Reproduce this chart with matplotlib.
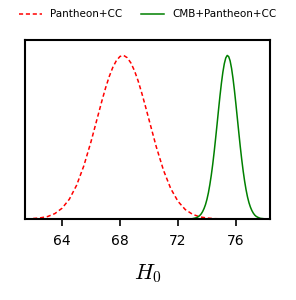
import numpy as np
import matplotlib.pyplot as plt

plt.rcParams['mathtext.fontset'] = 'cm'

# H0 posteriors (normalised to peak = 1)
h0_sn = [62.0, 62.5, 63.0, 63.5, 64.0, 64.5, 65.0, 65.5, 66.0, 66.5, 66.75, 67.0,
         67.25, 67.5, 67.75, 68.0, 68.25, 68.5, 68.75, 69.0, 69.25, 69.5, 69.75,
         70.0, 70.5, 71.0, 71.5, 72.0, 72.5, 73.0, 73.5, 74.0, 74.5, 75.0]
p_sn = [0.003, 0.007, 0.015, 0.033, 0.066, 0.121, 0.206, 0.325, 0.474, 0.640, 0.723,
        0.801, 0.870, 0.927, 0.969, 0.994, 1.000, 0.986, 0.954, 0.906, 0.844, 0.770,
        0.690, 0.607, 0.442, 0.298, 0.186, 0.108, 0.058, 0.029, 0.013, 0.006, 0.002,
        0.001]

h0_cmb = [73.0, 73.1, 73.2, 73.3, 73.4, 73.5, 73.6, 73.7, 73.8, 73.9,
          74.0, 74.1, 74.2, 74.3, 74.4, 74.5, 74.6, 74.7, 74.8, 74.9,
          75.0, 75.1, 75.2, 75.3, 75.4, 75.5, 75.6, 75.7, 75.8, 75.9,
          76.0, 76.1, 76.2, 76.3, 76.4, 76.5, 76.6, 76.7, 76.8, 76.9,
          77.0, 77.1, 77.2, 77.3, 77.4, 77.5, 77.6, 77.7, 77.8, 77.9, 78.0]
p_cmb = [0.002, 0.004, 0.006, 0.009, 0.014, 0.021, 0.031, 0.045, 0.064, 0.088,
         0.120, 0.160, 0.210, 0.268, 0.335, 0.411, 0.494, 0.580, 0.668, 0.753,
         0.831, 0.898, 0.950, 0.985, 1.000, 0.993, 0.967, 0.921, 0.859, 0.785,
         0.702, 0.615, 0.528, 0.443, 0.365, 0.294, 0.232, 0.179, 0.135, 0.100,
         0.073, 0.052, 0.036, 0.024, 0.016, 0.011, 0.007, 0.004, 0.003, 0.002, 0.001]

xticks = [64, 68, 72, 76]

fig = plt.figure(figsize=(2.96, 3.0), dpi=100)
ax = fig.add_axes([0.085, 0.27, 0.827, 0.597])

ax.plot(h0_sn, p_sn, color='red', ls='--', dashes=(2.7, 1.8), lw=1.1,
        label='Pantheon+CC')
ax.plot(h0_cmb, p_cmb, color='green', ls='-', lw=1.1, label='CMB+Pantheon+CC')

ax.set_xlim(61.45, 78.35)
ax.set_ylim(0, 1.095)
ax.set_xticks(xticks)
ax.set_yticks([])
ax.tick_params(axis='x', labelsize=10, length=5, width=1.2, pad=6)
for s in ax.spines.values():
    s.set_linewidth(1.5)
ax.set_xlabel(r'$H_0$', fontsize=16, labelpad=10)

fig.legend(loc='upper center', bbox_to_anchor=(0.5, 1.0), ncol=2,
           frameon=False, fontsize=7.5, handlelength=2.2, columnspacing=1.8)

fig.savefig('out.png', dpi=100)
